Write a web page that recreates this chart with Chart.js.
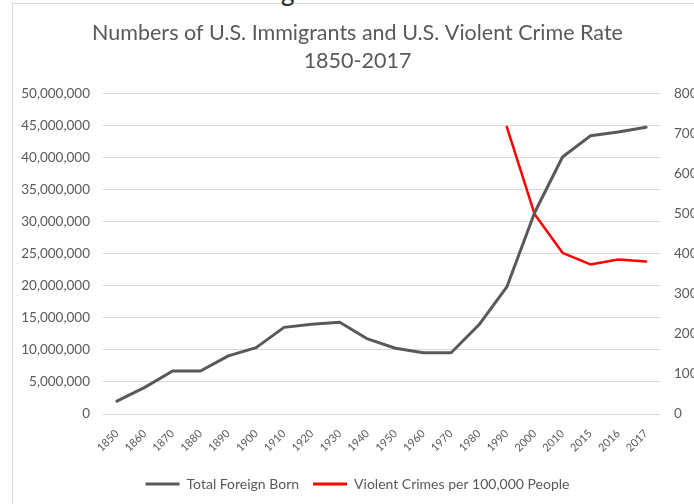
<!DOCTYPE html>
<html>
<head>
<meta charset="utf-8">
<title>Immigrants and Violent Crime</title>
<script src="https://cdn.jsdelivr.net/npm/chart.js@4/dist/chart.umd.min.js"></script>
<style>
    html, body { margin: 0; padding: 0; background: #fff; width: 694px; height: 504px; overflow: hidden; position: relative; }
    #frame { position: absolute; left: 12px; top: 3px; width: 740px; height: 560px; border: 1px solid #d9d9d9; }
    #cut { position: absolute; left: 281px; top: -22px; font: 26px Lato, sans-serif; line-height: 26px; color: #262626; }
    #wrap { position: absolute; left: 13px; top: 4px; width: 681px; height: 500px; }
</style>
</head>
<body>
<div id="frame"></div>
<div id="cut">g</div>
<div id="wrap"><canvas id="chart"></canvas></div>
<script>
const years = ['1850', '1860', '1870', '1880', '1890', '1900', '1910', '1920', '1930', '1940',
    '1950', '1960', '1970', '1980', '1990', '2000', '2010', '2015', '2016', '2017'];

// total foreign-born population
const foreignBorn = [2000000, 4150000, 6700000, 6700000, 9050000, 10350000, 13500000, 14000000, 14300000, 11700000,
    10250000, 9550000, 9550000, 13900000, 19800000, 31400000, 40050000, 43350000, 43950000, 44700000];

// violent crimes per 100,000 people, only from 1990 on
const crimeRate = [null, null, null, null, null, null, null, null, null, null,
    null, null, null, null, 716, 498, 402, 373, 385, 380];

const leftMax = 50000000;
const leftStep = 5000000;
const rightMax = 800;
const rightStep = 100;

const textColor = '#595959';
const gridColor = '#d9d9d9';
const fontName = 'Lato, "Open Sans", sans-serif';

var ctx = document.getElementById('chart');

var myChart = new Chart(ctx, {
    type: 'line',
    data: {
        labels: years,
        datasets: [{
            label: 'Total Foreign Born',
            data: foreignBorn,
            borderColor: '#595959',
            backgroundColor: '#595959',
            borderWidth: 3,
            pointRadius: 0,
            tension: 0,
            yAxisID: 'y'
        }, {
            label: 'Violent Crimes per 100,000 People',
            data: crimeRate,
            borderColor: '#ff0000',
            backgroundColor: '#ff0000',
            borderWidth: 2.5,
            pointRadius: 0,
            tension: 0,
            yAxisID: 'y1'
        }]
    },
    options: {
        responsive: true,
        maintainAspectRatio: false,
        animation: false,
        events: [],
        layout: { padding: { left: 8, right: 0, top: 0, bottom: 3 } },
        datasets: { line: { borderJoinStyle: 'round', borderCapStyle: 'round' } },
        plugins: {
            title: {
                display: true,
                text: ['Numbers of U.S. Immigrants and U.S. Violent Crime Rate', '1850-2017'],
                color: textColor,
                font: { family: fontName, size: 21.5, weight: 'normal', lineHeight: 1.26 },
                padding: { top: 16, bottom: 19 }
            },
            legend: {
                position: 'bottom',
                labels: {
                    color: textColor,
                    font: { family: fontName, size: 14 },
                    boxWidth: 34,
                    boxHeight: 3,
                    padding: 14,
                    generateLabels: function (chart) {
                        let items = Chart.defaults.plugins.legend.labels.generateLabels(chart);
                        items.forEach(function (item) { item.lineWidth = 0; });
                        return items;
                    }
                }
            },
            tooltip: { enabled: false }
        },
        scales: {
            x: {
                offset: true,
                grid: { display: false, drawTicks: false },
                border: { display: false },
                ticks: {
                    color: textColor,
                    font: { family: fontName, size: 11 },
                    minRotation: 45,
                    maxRotation: 45,
                    autoSkip: false,
                    padding: 13
                },
                afterFit: function (scale) { scale.height = 49; }
            },
            y: {
                position: 'left',
                min: 0,
                max: leftMax,
                grid: { color: gridColor, drawTicks: false },
                border: { display: false },
                ticks: {
                    stepSize: leftStep,
                    color: textColor,
                    font: { family: fontName, size: 13.5 },
                    padding: 13,
                    callback: function (v) { return v.toLocaleString('en-US'); }
                },
                afterFit: function (scale) { scale.width = 82; }
            },
            y1: {
                position: 'right',
                min: 0,
                max: rightMax,
                grid: { drawOnChartArea: false, drawTicks: false },
                border: { display: false },
                ticks: {
                    stepSize: rightStep,
                    color: textColor,
                    font: { family: fontName, size: 13.5 },
                    padding: 14
                },
                afterFit: function (scale) { scale.width = 34; }
            }
        }
    }
});
</script>
</body>
</html>
